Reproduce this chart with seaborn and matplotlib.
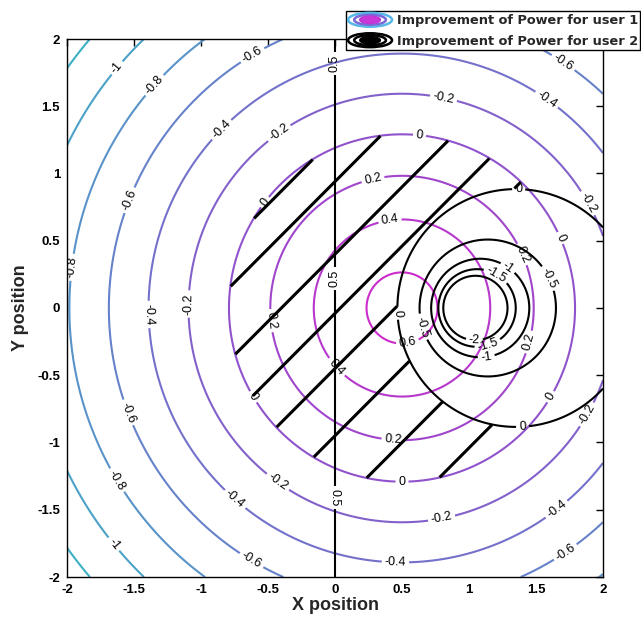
import numpy as np
import matplotlib
matplotlib.use("Agg")
import matplotlib.pyplot as plt
from matplotlib.patches import Ellipse
from matplotlib.lines import Line2D
from matplotlib.legend_handler import HandlerBase
import seaborn as sns

# ---- user 1: improvement falls off with distance from its centre ----
u1_center_x, u1_center_y = 0.5, 0.0
u1_peak, u1_slope, u1_core = 0.93, 0.688, 0.40
u1_levels = [-1.2, -1.0, -0.8, -0.6, -0.4, -0.2, 0.0, 0.2, 0.4, 0.6]
u1_anchor_colors = ["#3fb0c4", "#5b8fca", "#7c68cb", "#9a48cc", "#cc2ccc"]

# ---- user 2: ratio of distances to its own point and the other point ----
u2_own_x, u2_other_x = 1.02, -1.02
u2_peak, u2_scale, u2_power = 0.7515, 0.2515, 1.11
u2_levels = [-2.0, -1.5, -1.0, -0.5, 0.0, 0.5]

# region where both users improve, hatched with lines y - x = c
hatch_levels = [-2.04, -1.50, -0.95, -0.45, -0.04, 0.40, 0.94, 1.27]

ticks = [-2, -1.5, -1, -0.5, 0, 0.5, 1, 1.5, 2]
tick_labels = ["-2", "-1.5", "-1", "-0.5", "0", "0.5", "1", "1.5", "2"]
legend_labels = ["Improvement of Power for user 1",
                 "Improvement of Power for user 2"]

# where the contour values are written
u1_label_pos = [(-1.62, 1.78), (-1.34, 1.65), (-0.61, 1.87), (-0.84, 1.32),
                (-0.43, 1.32), (-1.94, 0.30), (-1.53, 0.80), (-1.10, 0.03),
                (-1.46, -0.05), (-0.54, 0.80), (-1.58, -0.79), (-1.66, -1.30),
                (-1.68, -1.78), (-0.66, -0.69), (-0.46, -1.34), (-0.78, -1.46),
                (-0.65, -1.92), (-0.54, -0.10), (0.28, 0.97), (0.41, 0.65),
                (0.63, 1.28), (0.81, 1.56), (1.58, 1.55), (1.70, 1.82),
                (1.87, 0.77), (1.68, 0.52), (1.40, 0.40), (1.51, -0.27),
                (1.66, -0.69), (1.93, -0.82), (0.0, -0.45), (0.545, -0.28),
                (0.43, -1.04), (0.5, -1.32), (0.81, -1.64), (0.45, -1.93),
                (1.68, -1.53), (1.75, -1.86)]
u2_label_pos = [(1.37, 0.86), (1.40, -0.89), (0.44, -0.04), (0.62, -0.15),
                (1.55, 0.20), (1.29, 0.30), (1.205, 0.25), (1.04, -0.238),
                (1.142, -0.277), (1.129, -0.363), (0.0, 1.82), (0.0, 0.22),
                (0.0, -1.41)]

sns.set_style("white")
plt.rcParams["font.family"] = ["Liberation Sans", "DejaVu Sans"]
plt.rcParams["axes.unicode_minus"] = False
plt.rcParams["contour.negative_linestyle"] = "solid"

# ---- fields on a grid ----
n = 800
xs = np.linspace(-2, 2, n)
ys = np.linspace(-2, 2, n)
X, Y = np.meshgrid(xs, ys)

r1 = np.hypot(X - u1_center_x, Y - u1_center_y)
F1 = u1_peak - u1_slope * np.sqrt(r1 ** 2 + u1_core ** 2)

d_own = np.hypot(X - u2_own_x, Y) + 1e-9
d_other = np.hypot(X - u2_other_x, Y)
F2 = u2_peak - u2_scale * (d_other / d_own) ** u2_power

H = np.ma.masked_where((F1 < 0) | (F2 < 0), Y - X)

u1_colors = sns.blend_palette(u1_anchor_colors, n_colors=len(u1_levels))

fig = plt.figure(figsize=(6.41, 6.22), dpi=100)
ax = fig.add_axes([67 / 641, 1 - 577 / 622, 536 / 641, 538 / 622])

cs1 = ax.contour(X, Y, F1, levels=u1_levels, colors=u1_colors,
                 linewidths=1.5, linestyles="solid", zorder=2)
csh = ax.contour(X, Y, H, levels=hatch_levels, colors="k",
                 linewidths=2.2, linestyles="solid", zorder=3)
cs2 = ax.contour(X, Y, F2, levels=u2_levels, colors="k",
                 linewidths=1.5, linestyles="solid", zorder=4)


def fmt(v):
    return f"{v:g}"


ax.clabel(cs1, manual=u1_label_pos, inline=True, inline_spacing=3,
          fontsize=9, colors="k", fmt=fmt)
ax.clabel(cs2, manual=u2_label_pos, inline=True, inline_spacing=3,
          fontsize=9, colors="k", fmt=fmt)

ax.set_xlim(-2, 2)
ax.set_ylim(-2, 2)
ax.set_xticks(ticks)
ax.set_yticks(ticks)
ax.set_xticklabels(tick_labels, fontweight="bold", fontsize=9.5)
ax.set_yticklabels(tick_labels, fontweight="bold", fontsize=9.5)
ax.tick_params(direction="in", length=5, width=1, top=True, right=True,
               pad=5, colors="k")
for sp in ax.spines.values():
    sp.set_color("k")
    sp.set_linewidth(1.0)
ax.set_xlabel("X position", fontweight="bold", fontsize=13, labelpad=1)
ax.set_ylabel("Y position", fontweight="bold", fontsize=13, labelpad=6)


class RingHandler(HandlerBase):
    def __init__(self, ring_colors, fill_color):
        super().__init__()
        self.ring_colors = ring_colors
        self.fill_color = fill_color

    def create_artists(self, legend, orig_handle, xdescent, ydescent,
                       width, height, fontsize, trans):
        cx = width / 2 - xdescent
        cy = height / 2 - ydescent
        arts = []
        k = len(self.ring_colors)
        for i, c in enumerate(self.ring_colors):
            f = 1 - i / (k + 0.6)
            arts.append(Ellipse((cx, cy), width * f, height * 1.05 * f,
                                fill=False, ec=c, lw=1.8, transform=trans))
        arts.append(Ellipse((cx, cy), width * 0.38, height * 0.45,
                            fill=True, fc=self.fill_color,
                            ec=self.fill_color, lw=1, transform=trans))
        return arts


h1 = Line2D([], [])
h2 = Line2D([], [])
leg = fig.legend([h1, h2], legend_labels, loc="upper right",
                 bbox_to_anchor=(0.999, 0.983), bbox_transform=fig.transFigure,
                 handler_map={h1: RingHandler(["#55b8e8", "#7a6ad8", "#c030d0"],
                                              "#c838d8"),
                              h2: RingHandler(["k", "k", "k"], "k")},
                 prop={"family": "DejaVu Sans", "weight": "bold", "size": 9.3},
                 handlelength=3.4, handleheight=1.2, borderpad=0.2,
                 labelspacing=0.5, handletextpad=0.35, borderaxespad=0,
                 fancybox=False, framealpha=1, edgecolor="k")
leg.get_frame().set_linewidth(1.0)

fig.savefig("out.png", dpi=100, facecolor="white")
